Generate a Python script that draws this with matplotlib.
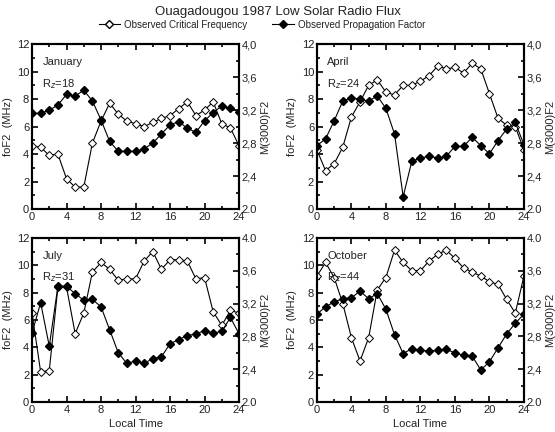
import matplotlib
matplotlib.use("Agg")
from matplotlib import pyplot as plt
from matplotlib.ticker import MultipleLocator
from matplotlib.lines import Line2D

plt.rcParams['font.family'] = ['Liberation Sans', 'DejaVu Sans']

hours = list(range(25))

# foF2 (MHz), open diamonds, left axis
fof2_jan = [4.6, 4.5, 3.9, 4.0, 2.2, 1.6, 1.6, 4.8, 6.4, 7.7, 6.9, 6.4, 6.2, 6.0, 6.3,
            6.6, 6.8, 7.3, 7.8, 6.8, 7.2, 7.8, 6.2, 5.9, 4.6]
fof2_apr = [4.3, 2.8, 3.3, 4.5, 6.7, 7.8, 9.0, 9.4, 8.5, 8.3, 9.0, 9.0, 9.3, 9.7, 10.4,
            10.2, 10.3, 9.9, 10.6, 10.2, 8.4, 6.6, 6.1, 6.0, 4.3]
fof2_jul = [6.5, 2.2, 2.3, 8.4, 8.4, 5.0, 6.5, 9.5, 10.2, 9.7, 8.9, 9.0, 9.0, 10.3, 11.0,
            9.7, 10.4, 10.4, 10.3, 9.0, 9.1, 6.6, 5.6, 6.7, 6.5]
fof2_oct = [9.2, 10.2, 9.1, 7.2, 4.7, 3.0, 4.7, 8.2, 9.1, 11.1, 10.2, 9.6, 9.6, 10.3, 10.8,
            11.1, 10.5, 9.8, 9.5, 9.2, 8.8, 8.6, 7.5, 6.5, 9.2]

# M(3000)F2, filled diamonds, right axis
m3000_jan = [3.16, 3.16, 3.20, 3.26, 3.39, 3.37, 3.44, 3.31, 3.08, 2.82, 2.70, 2.70, 2.70,
             2.73, 2.80, 2.91, 3.02, 3.06, 2.98, 2.93, 3.07, 3.17, 3.25, 3.22, 3.18]
m3000_apr = [2.77, 2.85, 3.07, 3.31, 3.35, 3.33, 3.31, 3.37, 3.22, 2.91, 2.15, 2.58, 2.62,
             2.64, 2.62, 2.64, 2.76, 2.76, 2.87, 2.77, 2.67, 2.83, 2.97, 3.05, 2.78]
m3000_jul = [2.84, 3.21, 2.68, 3.41, 3.41, 3.32, 3.24, 3.25, 3.16, 2.88, 2.60, 2.47, 2.50,
             2.47, 2.53, 2.55, 2.71, 2.76, 2.81, 2.83, 2.87, 2.84, 2.86, 3.03, 2.83]
m3000_oct = [3.07, 3.16, 3.22, 3.26, 3.27, 3.35, 3.26, 3.32, 3.13, 2.82, 2.59, 2.65, 2.63,
             2.62, 2.63, 2.64, 2.60, 2.57, 2.56, 2.39, 2.49, 2.66, 2.83, 2.96, 3.07]

months = ['January', 'April', 'July', 'October']
rz = ['18', '24', '31', '44']
fof2 = [fof2_jan, fof2_apr, fof2_jul, fof2_oct]
m3000 = [m3000_jan, m3000_apr, m3000_jul, m3000_oct]

right_labels_top = ['2.0', '2,4', '2,8', '3,2', '3,6', '4,0']
right_labels_bot = ['2.0', '2,4', '2,8', '3,2', '3,6', '4.0']
right_labels = [right_labels_top, right_labels_top, right_labels_bot, right_labels_bot]

txt = '#222222'

fig = plt.figure(figsize=(5.55, 4.32), dpi=100)
rects = [[0.0577, 0.516, 0.373, 0.382], [0.571, 0.516, 0.373, 0.382],
         [0.0577, 0.0694, 0.373, 0.380], [0.571, 0.0694, 0.373, 0.380]]

for i in range(4):
    ax = fig.add_axes(rects[i])
    ax2 = ax.twinx()
    ax.plot(hours, fof2[i], '-', color='black', lw=0.8, marker='D', ms=4.5,
            mfc='white', mec='black', mew=0.7, zorder=3)
    ax2.plot(hours, m3000[i], '-', color='black', lw=0.8, marker='D', ms=4.5,
             mfc='black', mec='black', zorder=3)
    ax.set_xlim(0, 24)
    ax.set_ylim(0, 12)
    ax2.set_ylim(2.0, 4.0)
    ax.set_xticks(range(0, 25, 4))
    ax.xaxis.set_minor_locator(MultipleLocator(2))
    ax.set_yticks(range(0, 13, 2))
    ax.yaxis.set_minor_locator(MultipleLocator(1))
    ax2.set_yticks([2.0, 2.4, 2.8, 3.2, 3.6, 4.0])
    ax2.set_yticklabels(right_labels[i])
    ax2.yaxis.set_minor_locator(MultipleLocator(0.2))
    ax.tick_params(axis='both', which='both', direction='in', top=True, labelsize=8,
                   pad=2, width=1.2, color='black', labelcolor=txt)
    ax.tick_params(which='major', length=4)
    ax.tick_params(which='minor', length=2.5)
    ax2.tick_params(axis='y', which='both', direction='in', labelsize=8, pad=2, width=1.2,
                    labelcolor=txt)
    ax2.tick_params(which='major', length=4)
    ax2.tick_params(which='minor', length=2.5)
    for a in (ax, ax2):
        for s in a.spines.values():
            s.set_linewidth(1.5)
    ax.set_ylabel('foF2  (MHz)', fontsize=8, labelpad=3, color=txt)
    ax2.set_ylabel('M(3000)F2', fontsize=8, labelpad=2, color=txt)
    if i >= 2:
        ax.set_xlabel('Local Time', fontsize=8, labelpad=3, color=txt)
    ax.text(0.05, 0.92, months[i], transform=ax.transAxes, fontsize=8, va='top', color=txt)
    ax.text(0.05, 0.80, 'R$_z$=' + rz[i], transform=ax.transAxes, fontsize=8, va='top',
            color=txt)

fig.text(0.5, 0.985, 'Ouagadougou 1987 Low Solar Radio Flux', ha='center', va='top',
         fontsize=9.5, color=txt)
h1 = Line2D([], [], color='black', lw=0.8, marker='D', ms=4, mfc='white', mec='black')
h2 = Line2D([], [], color='black', lw=0.8, marker='D', ms=4, mfc='black', mec='black')
leg = fig.legend([h1, h2], ['Observed Critical Frequency', 'Observed Propagation Factor'],
                 loc='center', bbox_to_anchor=(0.472, 0.943), ncol=2, frameon=False,
                 fontsize=7, handlelength=2.2, columnspacing=2.6, handletextpad=0.4,
                 borderaxespad=0, borderpad=0)
for t in leg.get_texts():
    t.set_color(txt)

fig.savefig('out.png', dpi=100)
